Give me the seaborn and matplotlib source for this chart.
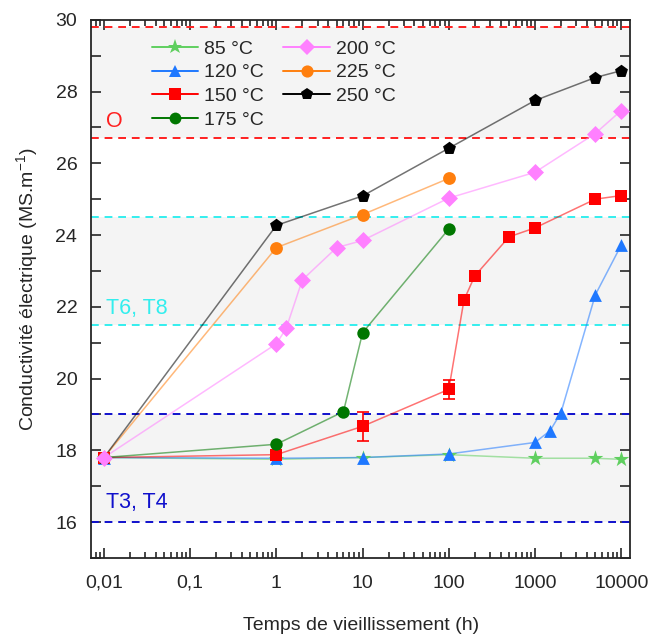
import numpy as np
import pandas as pd
import seaborn as sns
import matplotlib.pyplot as plt
from matplotlib.lines import Line2D
from matplotlib.ticker import FixedLocator, LogLocator, NullFormatter, MultipleLocator

# --- data ---
temps = ['85 °C', '120 °C', '150 °C', '175 °C', '200 °C', '225 °C', '250 °C']

t85 = [0.01, 1, 10, 100, 1000, 5000, 10000]
s85 = [17.8, 17.75, 17.8, 17.88, 17.78, 17.78, 17.75]

t120 = [0.01, 1, 10, 100, 1000, 1500, 2000, 5000, 10000]
s120 = [17.8, 17.78, 17.8, 17.9, 18.22, 18.55, 19.05, 22.33, 23.72]

t150 = [0.01, 1, 10, 100, 150, 200, 500, 1000, 5000, 10000]
s150 = [17.8, 17.88, 18.67, 19.7, 22.19, 22.86, 23.95, 24.2, 25.0, 25.1]
e150 = [0, 0.05, 0.4, 0.27, 0.1, 0.08, 0, 0, 0.08, 0.08]

t175 = [0.01, 1, 6, 10, 100]
s175 = [17.8, 18.17, 19.08, 21.28, 24.17]

t200 = [0.01, 1, 1.3, 2, 5, 10, 100, 1000, 5000, 10000]
s200 = [17.8, 20.97, 21.4, 22.75, 23.65, 23.85, 25.03, 25.75, 26.83, 27.47]

t225 = [0.01, 1, 10, 100]
s225 = [17.8, 23.65, 24.57, 25.58]

t250 = [0.01, 1, 10, 100, 1000, 5000, 10000]
s250 = [17.8, 24.27, 25.09, 26.42, 27.75, 28.39, 28.58]

# threshold lines (class limits) and their labels
limits_O = [29.8, 26.7]
limits_T68 = [24.5, 21.5]
limits_T34 = [19.0, 16.0]

xticks = [0.01, 0.1, 1, 10, 100, 1000, 10000]
xticklabels = ['0,01', '0,1', '1', '10', '100', '1000', '10000']

colors = ['#5fcf5f', '#1f78ff', '#ff0000', '#007700', '#ff80ff', '#ff7f0e', '#000000']
markers = ['*', '^', 's', 'o', 'D', 'o', 'p']
msizes = [140, 85, 80, 80, 75, 85, 95]
zorders = [4, 5, 6, 7, 10, 8, 9]

series = [(t85, s85), (t120, s120), (t150, s150), (t175, s175),
          (t200, s200), (t225, s225), (t250, s250)]
df = pd.concat([pd.DataFrame({'t': t, 's': s, 'temp': name})
                for name, (t, s) in zip(temps, series)], ignore_index=True)

sns.set_style('ticks')
plt.rcParams['font.family'] = ['Liberation Sans', 'DejaVu Sans']

fig, ax = plt.subplots(figsize=(6.51, 6.37), dpi=100)
fig.subplots_adjust(left=0.14, right=0.968, top=0.969, bottom=0.124)
ax.set_facecolor('white')

# background bands
for lo, hi in [(26.7, 29.8), (21.5, 24.5), (16.0, 19.0)]:
    ax.axhspan(lo, hi, color='#f4f4f4', zorder=0, lw=0)
for y in limits_O:
    ax.axhline(y, color='#ff2020', ls=(0, (4, 3)), lw=1.4, zorder=1)
for y in limits_T68:
    ax.axhline(y, color='#33eeee', ls=(0, (4, 3)), lw=1.4, zorder=1)
for y in limits_T34:
    ax.axhline(y, color='#1010cc', ls=(0, (4, 3)), lw=1.4, zorder=1)

pal = dict(zip(temps, colors))
sns.lineplot(data=df, x='t', y='s', hue='temp', palette=pal, estimator=None,
             sort=False, units='temp', lw=1.1, alpha=0.55, legend=False, ax=ax, zorder=2)
for name, c, m, ms, z in zip(temps, colors, markers, msizes, zorders):
    sub = df[df['temp'] == name]
    sns.scatterplot(data=sub, x='t', y='s', color=c, marker=m, s=ms,
                    linewidth=0, legend=False, ax=ax, zorder=z)

ax.errorbar(t150, s150, yerr=e150, fmt='none', ecolor='#ff0000', elinewidth=1.2,
            capsize=4, capthick=1.2, zorder=3)

ax.text(0.0105, 27.0, 'O', color='#ff2020', fontsize=15.5)
ax.text(0.0105, 21.8, 'T6, T8', color='#33eeee', fontsize=15.5)
ax.text(0.0105, 16.4, 'T3, T4', color='#1010cc', fontsize=15.5)

ax.set_xscale('log')
ax.set_xlim(0.0071, 12700)
ax.set_ylim(15, 30)
ax.xaxis.set_major_locator(FixedLocator(xticks))
ax.set_xticklabels(xticklabels)
ax.xaxis.set_minor_locator(LogLocator(base=10, subs=np.arange(2, 10)))
ax.xaxis.set_minor_formatter(NullFormatter())
ax.set_yticks(range(16, 31, 2))
ax.yaxis.set_minor_locator(MultipleLocator(1))
ax.tick_params(axis='both', which='both', direction='in', top=True, right=True,
               labelsize=14, width=1.2)
ax.tick_params(axis='y', which='both', length=7, pad=10)
ax.tick_params(axis='x', which='major', length=7, pad=12)
ax.tick_params(axis='x', which='minor', length=4)
for sp in ax.spines.values():
    sp.set_linewidth(1.3)

ax.set_xlabel('Temps de vieillissement (h)', fontsize=14, labelpad=18)
ax.set_ylabel('Conductivité électrique (MS.m$^{\\mathregular{-1}}$)', fontsize=14, labelpad=10)

handles = [Line2D([], [], color=c, marker=m, markersize=np.sqrt(ms) * 0.95, lw=1.4,
                  markeredgewidth=0)
           for c, m, ms in zip(colors, markers, msizes)]
ax.legend(handles, temps, ncol=2, frameon=False, loc='upper left',
          bbox_to_anchor=(0.08, 0.995), fontsize=14, handlelength=2.4,
          handletextpad=0.3, columnspacing=1.0, labelspacing=0.32)

fig.savefig('out.png', dpi=100)
